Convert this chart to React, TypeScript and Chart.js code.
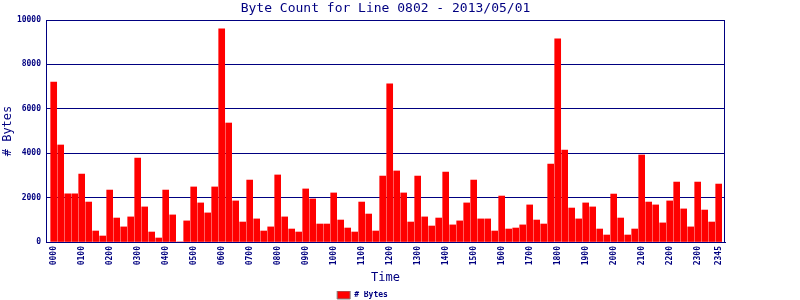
import React, { useEffect, useRef } from "react";
import { Chart, registerables } from "chart.js";

Chart.register(...registerables);

const chartTitle = "Byte Count for Line 0802 - 2013/05/01";
const seriesName = "# Bytes";
const xAxisTitle = "Time";
const yAxisTitle = "# Bytes";

// 15-minute slots of the day
const times: string[] = [];
for (let h = 0; h < 24; h++) {
  for (const m of ["00", "15", "30", "45"]) {
    times.push(String(h).padStart(2, "0") + m);
  }
}

const byteCounts = [
  7200, 4370, 2170, 2170, 3060, 1800, 495, 270,
  2340, 1080, 680, 1130, 3780, 1580, 450, 180,
  2340, 1220, 0, 950, 2480, 1760, 1310, 2480,
  9600, 5360, 1850, 900, 2790, 1040, 495, 680,
  3020, 1130, 585, 450, 2390, 1940, 810, 810,
  2210, 990, 630, 450, 1800, 1260, 495, 2970,
  7120, 3200, 2210, 900, 2970, 1130, 720, 1080,
  3150, 770, 950, 1760, 2790, 1040, 1040, 495,
  2070, 585, 630, 770, 1670, 990, 810, 3510,
  9150, 4140, 1530, 1040, 1760, 1580, 585, 315,
  2160, 1080, 315, 585, 3920, 1800, 1670, 860,
  1850, 2700, 1490, 680, 2700, 1440, 900, 2610,
];

const xTickLabels = [
  "0000", "0100", "0200", "0300", "0400", "0500", "0600", "0700",
  "0800", "0900", "1000", "1100", "1200", "1300", "1400", "1500",
  "1600", "1700", "1800", "1900", "2000", "2100", "2200", "2300", "2345",
];

const yTicks = [0, 2000, 4000, 6000, 8000, 10000];

const NAVY = "#000080";

export default function App() {
  const ref = useRef<HTMLCanvasElement | null>(null);

  useEffect(() => {
    document.body.style.margin = "0";
    const canvas = ref.current;
    if (!canvas) return;

    const framePlugin = {
      id: "frame",
      afterDatasetsDraw(chart: any) {
        const { ctx, chartArea } = chart;
        ctx.save();
        ctx.strokeStyle = NAVY;
        ctx.lineWidth = 1;
        ctx.strokeRect(
          Math.round(chartArea.left) + 0.5,
          Math.round(chartArea.top) + 0.5,
          Math.round(chartArea.right - chartArea.left) - 1,
          Math.round(chartArea.bottom - chartArea.top)
        );
        ctx.restore();
      },
      afterDraw(chart: any) {
        const { ctx, chartArea } = chart;
        ctx.save();
        ctx.fillStyle = NAVY;
        ctx.font = "13px 'DejaVu Sans Mono'";
        ctx.textAlign = "center";
        ctx.textBaseline = "middle";
        ctx.fillText(chartTitle, (chartArea.left + chartArea.right) / 2, 9);
        ctx.restore();
      },
    };

    const chart = new Chart(canvas, {
      type: "bar",
      data: {
        datasets: [
          {
            label: seriesName,
            data: byteCounts.map((v, i) => ({ x: i, y: v })),
            backgroundColor: "#ff0000",
            borderWidth: 0,
            barThickness: 6,
          },
        ],
      },
      options: {
        animation: false,
        responsive: false,
        layout: { padding: { left: 0, right: 75, top: 20, bottom: -9 } },
        plugins: {
          title: { display: false },
          tooltip: { enabled: false },
          legend: {
            position: "bottom",
            labels: {
              color: NAVY,
              font: { family: "'DejaVu Sans Mono'", size: 8, weight: "bold" },
              boxWidth: 13,
              boxHeight: 8,
              padding: 0,
              generateLabels: (c: any) => {
                const items = (Chart.defaults.plugins.legend.labels as any).generateLabels(c);
                items.forEach((it: any) => {
                  it.strokeStyle = "#808080";
                  it.lineWidth = 1;
                });
                return items;
              },
            },
          },
        },
        scales: {
          x: {
            type: "linear",
            offset: false,
            min: -1.1,
            max: 95.9,
            grid: { display: false, drawTicks: false },
            border: { display: true, color: NAVY },
            afterBuildTicks: (scale: any) => {
              scale.ticks = xTickLabels.map((t) => ({ value: times.indexOf(t) }));
            },
            afterFit: (scale: any) => {
              scale.height = 49;
            },
            ticks: {
              autoSkip: false,
              minRotation: 90,
              maxRotation: 90,
              padding: 4,
              color: NAVY,
              font: { family: "'DejaVu Sans Mono'", size: 8, weight: "bold" },
              callback: (value: any) => times[Math.round(Number(value))] ?? "",
            },
            title: {
              display: true,
              text: xAxisTitle,
              color: NAVY,
              font: { family: "'DejaVu Sans Mono'", size: 12 },
              padding: { top: 0, bottom: 6 },
            },
          },
          y: {
            min: 0,
            max: 10000,
            afterBuildTicks: (scale: any) => {
              scale.ticks = yTicks.map((v) => ({ value: v }));
            },
            afterFit: (scale: any) => {
              scale.width = 46;
            },
            grid: { color: NAVY, lineWidth: 1, drawTicks: false },
            border: { display: true, color: NAVY },
            ticks: {
              padding: 5,
              color: NAVY,
              font: { family: "'DejaVu Sans Mono'", size: 8, weight: "bold" },
              callback: (value: any) => String(value),
            },
            title: {
              display: true,
              text: yAxisTitle,
              color: NAVY,
              font: { family: "'DejaVu Sans Mono'", size: 12 },
              padding: { top: 1, bottom: 0 },
            },
          },
        },
      },
      plugins: [framePlugin],
    } as any);

    return () => chart.destroy();
  }, []);

  return (
    <div style={{ width: 800, height: 300 }}>
      <canvas ref={ref} width={800} height={300} />
    </div>
  );
}
